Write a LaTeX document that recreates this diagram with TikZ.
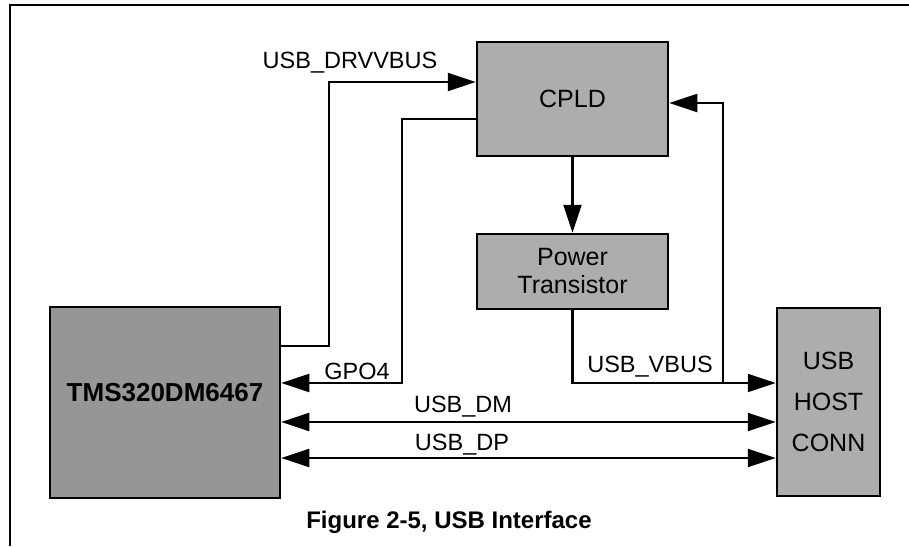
\documentclass[tikz,border=0pt]{standalone}
\usepackage{fontspec}
\setmainfont{Liberation Sans}
\usetikzlibrary{arrows.meta}
\definecolor{boxgray}{HTML}{ADADAD}
\definecolor{dspgray}{HTML}{969696}
\tikzset{
  blk/.style={draw=black, line width=2.5pt, fill=boxgray, inner sep=0pt, align=center,
    font=\fontsize{25}{28}\selectfont},
  wire/.style={line width=2.2pt, draw=black},
  arr/.style={wire, -{Triangle[length=28pt,width=18pt]}},
  darr/.style={wire, {Triangle[length=28pt,width=18pt]}-{Triangle[length=28pt,width=18pt]}},
  sig/.style={font=\fontsize{23.5}{27}\selectfont, inner sep=0pt},
}
\begin{document}
\begin{tikzpicture}[x=1pt,y=-1pt]
\useasboundingbox (0,0) rectangle (909,546);
% frame
\draw[line width=2.5pt] (10,546) -- (10,5) -- (909,5);
% blocks
\node[blk, minimum width=191pt, minimum height=114pt] (cpld) at (572.5,99) {CPLD};
\node[blk, minimum width=191pt, minimum height=75pt] (pwr) at (572.5,271.5) {Power\\Transistor};
\node[blk, fill=dspgray, minimum width=230pt, minimum height=191pt,
  label={[font=\fontsize{26}{30}\selectfont\bfseries, yshift=9.5pt]center:TMS320DM6467}] (dsp) at (165,402.5) {};
\node[blk, minimum width=103pt, minimum height=188pt, font=\fontsize{25}{41}\selectfont] (usb) at (828.5,402) {USB\\HOST\\CONN};
% helper coordinates
\coordinate (dA) at (0,346);
\coordinate (cA) at (329,82);
\coordinate (cB) at (402,119);
\coordinate (cC) at (402,383);
\coordinate (cE) at (723,383);
\coordinate (cF) at (723,103);
\coordinate (cG) at (0,422);
\coordinate (cH) at (0,458);
% USB_DRVVBUS
\draw[arr] (dsp.east |- dA) -| (cA) -- (cpld.west |- cA);
\node[sig] (lDrv) at (350,63) {USB\_DRVVBUS};
% GPO4
\draw[arr] (cpld.west |- cB) -- (cB) -- (cC) -- (dsp.east |- cC);
\node[sig] (lGpo) at (357,371) {GPO4};
% CPLD -> Power transistor
\draw[arr] (cpld.south) -- (pwr.north);
% USB_VBUS
\draw[arr] (pwr.south) -- (pwr.south |- cE) -- (usb.west |- cE);
\draw[arr] (cE) -- (cF) -- (cpld.east |- cF);
\node[sig] (lVbus) at (650,367) {USB\_VBUS};
% USB_DM / USB_DP
\draw[darr] (dsp.east |- cG) -- (usb.west |- cG);
\node[sig] (lDm) at (463,407) {USB\_DM};
\draw[darr] (dsp.east |- cH) -- (usb.west |- cH);
\node[sig] (lDp) at (462,445) {USB\_DP};
% caption
\node[font=\fontsize{24}{28}\selectfont\bfseries, inner sep=0pt] (cap) at (449,522) {Figure 2-5, USB Interface};
\end{tikzpicture}
\end{document}
